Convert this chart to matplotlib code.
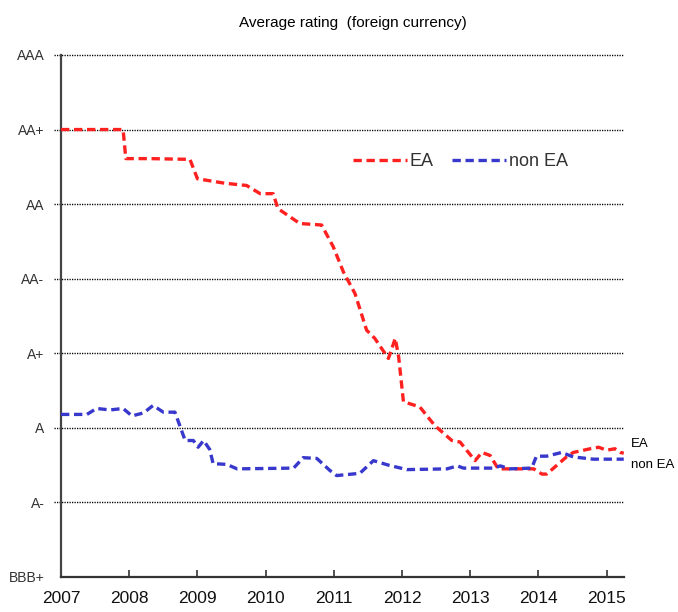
import matplotlib
matplotlib.use("Agg")
import matplotlib.pyplot as plt
import matplotlib.transforms as mtransforms

plt.rcParams['font.family'] = ['Liberation Sans Narrow', 'Liberation Sans', 'DejaVu Sans']

# rating scale, bottom to top
ratings = ['BBB+', 'A-', 'A', 'A+', 'AA-', 'AA', 'AA+', 'AAA']
years = [2007, 2008, 2009, 2010, 2011, 2012, 2013, 2014, 2015]

# euro area average rating (0 = BBB+ ... 7 = AAA)
ea_t = [2007.0, 2007.91, 2007.95, 2008.3, 2008.89, 2009.0, 2009.4, 2009.72, 2009.92,
        2010.11, 2010.18, 2010.5, 2010.82, 2010.99, 2011.14, 2011.31, 2011.48, 2011.6,
        2011.8, 2011.9, 2011.95, 2012.02, 2012.26, 2012.48, 2012.73, 2012.85, 2013.07,
        2013.17, 2013.29, 2013.41, 2013.93, 2014.05, 2014.12, 2014.41, 2014.51, 2014.76,
        2014.88, 2015.0, 2015.12, 2015.2, 2015.25]
ea_v = [6.0, 6.0, 5.61, 5.61, 5.6, 5.34, 5.28, 5.25, 5.14,
        5.14, 4.94, 4.74, 4.72, 4.43, 4.09, 3.8, 3.31, 3.2,
        2.93, 3.2, 2.95, 2.35, 2.28, 2.03, 1.83, 1.81, 1.56,
        1.67, 1.63, 1.45, 1.45, 1.38, 1.38, 1.61, 1.67, 1.72,
        1.74, 1.7, 1.72, 1.67, 1.66]

# non euro area average rating
non_t = [2007.0, 2007.38, 2007.52, 2007.72, 2007.91, 2008.04, 2008.21, 2008.35, 2008.5,
         2008.67, 2008.82, 2008.94, 2009.01, 2009.09, 2009.18, 2009.23, 2009.43, 2009.58,
         2010.41, 2010.55, 2010.75, 2010.94, 2011.04, 2011.38, 2011.58, 2011.8, 2012.07,
         2012.66, 2012.81, 2012.9, 2013.34, 2013.44, 2013.58, 2013.9, 2013.97, 2014.12,
         2014.34, 2014.51, 2014.8, 2015.15, 2015.25]
non_v = [2.18, 2.18, 2.26, 2.24, 2.26, 2.16, 2.2, 2.3, 2.21,
         2.21, 1.83, 1.83, 1.74, 1.83, 1.71, 1.52, 1.51, 1.45,
         1.46, 1.6, 1.59, 1.43, 1.36, 1.39, 1.56, 1.5, 1.44,
         1.45, 1.49, 1.46, 1.46, 1.49, 1.45, 1.46, 1.62, 1.62,
         1.67, 1.61, 1.58, 1.58, 1.58]

fig = plt.figure(figsize=(6.78, 6.12), dpi=100)
ax = fig.add_axes([0.09, 0.0572, 0.83, 0.853])

red = '#ff2020'
blue = '#3838cc'
ax.plot(ea_t, ea_v, color=red, lw=2.4, dashes=(2.5, 1.4), label='EA', zorder=3)
ax.plot(non_t, non_v, color=blue, lw=2.4, dashes=(2.5, 1.4), label='non EA', zorder=3)

for i in range(1, len(ratings)):
    ax.axhline(i, xmin=-0.012, color='black', lw=1.0, ls=(0, (0.9, 0.9)), zorder=1, clip_on=False)

ax.set_xlim(2007, 2015.25)
ax.set_ylim(0, 7)
ax.set_yticks(range(len(ratings)))
ax.set_yticklabels(ratings, fontsize=10, color='#333333')
ax.set_xticks(years)
ax.set_xticklabels([str(y) for y in years], fontsize=12.5, color='#111111')
ax.tick_params(axis='x', direction='in', length=5, width=1.2, pad=10, color='#333333')
ax.tick_params(axis='y', length=0, pad=12)

for s in ['top', 'right']:
    ax.spines[s].set_visible(False)
ax.spines['left'].set_color('#444444')
ax.spines['left'].set_linewidth(1.6)
ax.spines['bottom'].set_color('#333333')
ax.spines['bottom'].set_linewidth(1.6)

leg = ax.legend(loc='center left', bbox_to_anchor=(0.519, 0.795), ncol=2, frameon=False,
                fontsize=13, handlelength=3.0, columnspacing=1.0, handletextpad=0.15,
                borderpad=0, borderaxespad=0)
for t in leg.get_texts():
    t.set_color('#333333')

# end-of-series labels outside the axes
trans = mtransforms.blended_transform_factory(ax.transAxes, ax.transData)
ax.text(1.012, ea_v[-1] + 0.12, 'EA', transform=trans, fontsize=9.5, clip_on=False, va='center')
ax.text(1.012, non_v[-1] - 0.08, 'non EA', transform=trans, fontsize=9.5, clip_on=False, va='center')

fig.text(0.52, 0.962, 'Average rating  (foreign currency)', ha='center', va='center', fontsize=11)

fig.savefig('out.png', dpi=100)
